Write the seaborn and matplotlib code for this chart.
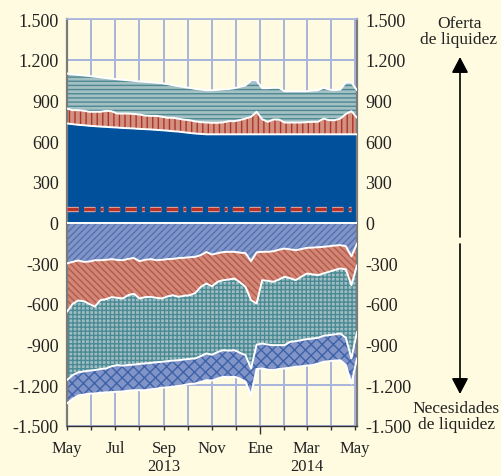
import matplotlib
matplotlib.use("Agg")
import pandas as pd
import matplotlib.pyplot as plt
import matplotlib.dates as mdates
import matplotlib.ticker as mticker
import matplotlib.patheffects as pe
import seaborn as sns

# Fechas semanales, mayo 2013 - mayo 2014
fechas = pd.date_range("2013-05-01", "2014-05-04", periods=53)

# Oferta de liquidez: borde superior de cada capa (millones)
oferta_base = [730, 725, 720, 717, 713, 710, 707, 705, 702, 700,
               697, 695, 693, 690, 688, 686, 683, 680, 677, 673,
               670, 665, 660, 656, 653, 650, 650, 650, 650, 650,
               650, 650, 650, 650, 650, 650, 650, 650, 650, 650,
               650, 650, 650, 650, 650, 650, 650, 650, 650, 650,
               650, 650, 650]
oferta_media = [840, 828, 828, 824, 816, 816, 816, 823, 820, 803,
                803, 803, 800, 796, 788, 786, 786, 780, 772, 772,
                765, 758, 754, 745, 740, 737, 735, 735, 738, 747,
                747, 755, 766, 779, 816, 761, 742, 759, 759, 737,
                737, 737, 737, 740, 742, 742, 766, 754, 754, 766,
                800, 820, 772]
oferta_total = [1098, 1092, 1088, 1084, 1080, 1075, 1070, 1065, 1060, 1056,
                1052, 1048, 1044, 1040, 1037, 1034, 1030, 1027, 1020, 1012,
                1005, 998, 992, 985, 980, 975, 975, 978, 982, 984,
                990, 1000, 1010, 1046, 1046, 990, 990, 993, 993, 968,
                968, 968, 968, 968, 972, 975, 993, 980, 975, 980,
                1032, 1032, 975]
linea_ref = 100

# Necesidades de liquidez: borde inferior de cada capa
necesidad_1 = [-302, -290, -280, -290, -288, -278, -278, -275, -270, -276,
               -278, -268, -262, -285, -275, -270, -278, -275, -270, -268,
               -262, -260, -256, -253, -240, -218, -236, -226, -218, -216,
               -216, -222, -226, -285, -220, -216, -216, -212, -200, -192,
               -198, -204, -196, -187, -185, -182, -179, -175, -170, -167,
               -175, -250, -155]
necesidad_2 = [-658, -600, -575, -580, -600, -620, -572, -565, -550, -555,
               -560, -535, -525, -560, -550, -548, -555, -560, -545, -536,
               -548, -540, -536, -520, -474, -450, -470, -437, -425, -420,
               -413, -440, -474, -572, -597, -425, -430, -437, -420, -400,
               -410, -425, -400, -376, -382, -388, -375, -363, -350, -339,
               -345, -462, -315]
necesidad_3 = [-1162, -1125, -1105, -1098, -1092, -1088, -1080, -1076, -1060, -1051,
               -1055, -1050, -1048, -1042, -1039, -1035, -1030, -1027, -1022, -1018,
               -1015, -1010, -1005, -1002, -985, -965, -975, -955, -941, -945,
               -941, -960, -978, -1076, -900, -892, -900, -904, -904, -904,
               -880, -875, -867, -860, -855, -850, -835, -830, -825, -818,
               -850, -1002, -806]
necesidad_4 = [-1334, -1300, -1275, -1268, -1262, -1260, -1255, -1252, -1250, -1248,
               -1245, -1240, -1236, -1236, -1236, -1230, -1225, -1218, -1215, -1210,
               -1205, -1198, -1190, -1187, -1175, -1162, -1165, -1150, -1137, -1140,
               -1137, -1150, -1174, -1273, -1080, -1076, -1085, -1088, -1080, -1076,
               -1070, -1064, -1060, -1055, -1051, -1040, -1027, -1022, -1018, -1015,
               -1050, -1187, -1002]

meses_lbl = ["May", "Jul", "Sep", "Nov", "Ene", "Mar", "May"]
meses_pos = pd.to_datetime(["2013-05-01", "2013-07-01", "2013-09-01", "2013-11-01",
                            "2014-01-01", "2014-03-01", "2014-05-01"])
anios = ["2013", "2014"]
anios_pos = pd.to_datetime(["2013-09-01", "2014-03-01"])

fondo = "#fffbe1"
tam = 13
tam_x = 12
sns.set_theme(style="white")
plt.rcParams["font.family"] = ["Liberation Serif", "DejaVu Serif"]
plt.rcParams["hatch.linewidth"] = 1.0

fig = plt.figure(figsize=(5.01, 4.77), dpi=100, facecolor=fondo)
ax = fig.add_axes([67 / 501, 50 / 477, 290 / 501, 407 / 477])
ax.set_facecolor(fondo)

cero = [0] * len(fechas)


def capa(y0, y1, color, trama, color_trama):
    ax.fill_between(fechas, y0, y1, facecolor=color, edgecolor="none", lw=0, zorder=2)
    ax.fill_between(fechas, y0, y1, facecolor="none", edgecolor=color_trama,
                    hatch=trama, lw=0, zorder=2.1)


# capas de oferta
ax.fill_between(fechas, cero, oferta_base, facecolor="#00509b", lw=0, zorder=2)
capa(oferta_base, oferta_media, "#d4907f", "|||", "#a8362c")
capa(oferta_media, oferta_total, "#a3c0c3", "----", "#4d8893")

# capas de necesidades
capa(cero, necesidad_1, "#8094c8", "/////", "#5570ae")
capa(necesidad_1, necesidad_2, "#d28675", "\\\\\\\\\\", "#b25a4b")
capa(necesidad_2, necesidad_3, "#a0bec1", "++++", "#4a8a95")
capa(necesidad_3, necesidad_4, "#8094c8", "xxx", "#3e62a8")

# bordes blancos entre capas
for borde in [oferta_base, oferta_media, oferta_total, cero,
              necesidad_1, necesidad_2, necesidad_3, necesidad_4]:
    sns.lineplot(x=fechas, y=borde, color="white", lw=1.4, ax=ax, zorder=3)

# linea de referencia
ref = ax.axhline(linea_ref, color="#b8322a", lw=2.4, zorder=4,
                 dashes=(3.4, 1.6, 3.4, 1.6, 0.8, 1.6))
ref.set_path_effects([pe.Stroke(linewidth=3.8, foreground="#e9b0a4"), pe.Normal()])

# ejes
ax.set_xlim(pd.Timestamp("2013-05-01"), pd.Timestamp("2014-05-04"))
ax.set_ylim(-1500, 1500)
ax.yaxis.set_major_locator(mticker.MultipleLocator(300))
ax.yaxis.set_major_formatter(mticker.FuncFormatter(lambda v, p: f"{int(v):,}".replace(",", ".")))
ax.xaxis.set_major_locator(mticker.FixedLocator(mdates.date2num(meses_pos)))
ax.xaxis.set_major_formatter(mticker.FixedFormatter(meses_lbl))
ax.xaxis.set_minor_locator(mdates.MonthLocator())
ax.set_xlabel("")
ax.set_ylabel("")

ax.grid(True, which="both", axis="x", color="#a8b4dc", lw=1.4)
ax.grid(True, which="major", axis="y", color="#a8b4dc", lw=1.4)
ax.set_axisbelow(True)

ax.tick_params(axis="y", left=False, right=False, length=0, labelleft=True,
               labelright=True, labelsize=tam, pad=6, colors="#222222")
ax.tick_params(axis="x", which="both", bottom=True, direction="out", length=3,
               width=1, color="#333333", labelsize=tam_x, pad=7, labelcolor="#222222")
for t, fecha in zip(ax.xaxis.get_major_ticks(), meses_pos):
    if fecha.month == 1:
        t.tick1line.set_markersize(6)

for lado in ["left", "right"]:
    ax.spines[lado].set_color("#7a7a7a")
    ax.spines[lado].set_linewidth(1.6)
ax.spines["top"].set_color("#a8b4dc")
ax.spines["bottom"].set_color("#333333")
ax.spines["bottom"].set_linewidth(1.0)

for txt, fecha in zip(anios, anios_pos):
    ax.text(fecha, -0.098, txt, transform=ax.get_xaxis_transform(),
            ha="center", va="center", fontsize=tam_x, color="#222222")

# anotaciones laterales
fig.text(459 / 501, 1 - 32 / 477, "Oferta\nde liquidez", ha="center", va="center",
         fontsize=12.5, linespacing=1.05, color="#222222")
fig.text(456 / 501, 1 - 417 / 477, "Necesidades\nde liquidez", ha="center", va="center",
         fontsize=12.5, linespacing=1.05, color="#222222")
flecha = dict(arrowstyle="-|>,head_length=0.8,head_width=0.42", color="black",
              lw=1.2, mutation_scale=12, shrinkA=0, shrinkB=0)
ax.annotate("", xy=(460, 477 - 58), xytext=(460, 477 - 238),
            xycoords="figure pixels", textcoords="figure pixels", arrowprops=flecha)
ax.annotate("", xy=(460, 477 - 395), xytext=(460, 477 - 245),
            xycoords="figure pixels", textcoords="figure pixels", arrowprops=flecha)

fig.savefig("out.png", dpi=100, facecolor=fondo)
